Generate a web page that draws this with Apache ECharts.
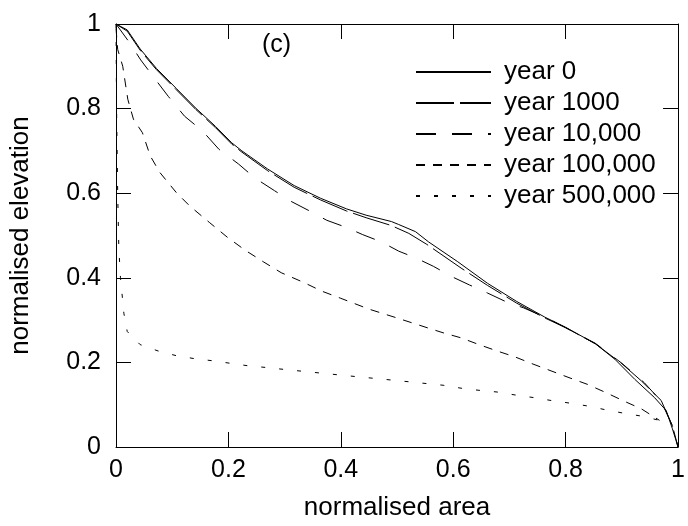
<!DOCTYPE html>
<html><head><meta charset="utf-8">
<script src="https://cdn.jsdelivr.net/npm/echarts@6/dist/echarts.min.js"></script>
<style>html,body{margin:0;padding:0;background:#fff}#c{width:688px;height:526px}</style>
</head><body><div id="c"></div>
<script>
const seriesNames = ['year 0','year 1000','year 10,000','year 100,000','year 500,000'];
const xTicks = [0,0.2,0.4,0.6,0.8,1];
const yTicks = [0,0.2,0.4,0.6,0.8,1];

const year0X = [0,0.02,0.043,0.072,0.107,0.142,0.177,0.206,0.224,0.27,0.317,0.364,0.41,0.445,0.49,0.503,0.533,0.556,0.608,0.661,0.713,0.763,0.80,0.853,0.888,0.923,0.958,0.979,0.99,1];
const year0Y = [1,0.986,0.941,0.895,0.848,0.801,0.758,0.719,0.700,0.657,0.618,0.588,0.563,0.548,0.533,0.526,0.509,0.485,0.438,0.387,0.344,0.307,0.283,0.244,0.207,0.160,0.117,0.086,0.043,0];

const year1000X = [0,0.02,0.043,0.072,0.107,0.142,0.177,0.206,0.224,0.27,0.317,0.364,0.41,0.445,0.489,0.521,0.553,0.614,0.661,0.713,0.763,0.80,0.853,0.9,0.935,0.97,0.99,1];
const year1000Y = [1,0.983,0.938,0.892,0.845,0.798,0.755,0.716,0.697,0.653,0.614,0.584,0.558,0.542,0.524,0.505,0.479,0.423,0.382,0.340,0.305,0.282,0.244,0.197,0.156,0.110,0.05,0];

const year10kX = [0,0.023,0.044,0.07,0.093,0.122,0.154,0.183,0.218,0.247,0.282,0.311,0.343,0.375,0.41,0.439,0.472,0.503,0.535,0.565,0.597,0.629,0.661,0.693,0.725,0.77,0.80,0.853,0.9,0.94,0.97,0.99,1];
const year10kY = [1,0.958,0.915,0.869,0.829,0.782,0.747,0.704,0.669,0.636,0.606,0.581,0.559,0.536,0.519,0.502,0.485,0.463,0.446,0.427,0.403,0.383,0.364,0.344,0.329,0.303,0.282,0.245,0.198,0.152,0.108,0.05,0];

const year100kX = [0,0.003,0.012,0.021,0.031,0.047,0.061,0.078,0.107,0.131,0.166,0.198,0.23,0.262,0.294,0.334,0.367,0.399,0.45,0.5,0.556,0.582,0.614,0.646,0.678,0.71,0.742,0.774,0.806,0.839,0.871,0.903,0.935,0.967];
const year100kY = [0.99,0.94,0.90,0.822,0.775,0.743,0.688,0.649,0.602,0.570,0.531,0.496,0.465,0.438,0.412,0.389,0.368,0.352,0.326,0.305,0.281,0.270,0.258,0.242,0.227,0.213,0.196,0.180,0.164,0.148,0.129,0.109,0.090,0.063];

const year500kX = [0,0.001,0.003,0.005,0.008,0.014,0.02,0.043,0.075,0.107,0.139,0.171,0.203,0.235,0.267,0.302,0.4,0.5,0.582,0.614,0.646,0.678,0.71,0.742,0.774,0.806,0.839,0.871,0.903,0.935,0.967];
const year500kY = [1,0.8,0.6,0.47,0.4,0.316,0.273,0.242,0.227,0.216,0.209,0.204,0.198,0.192,0.188,0.183,0.17,0.157,0.146,0.139,0.134,0.130,0.123,0.117,0.110,0.104,0.097,0.088,0.080,0.073,0.063];

const allX = [year0X, year1000X, year10kX, year100kX, year500kX];
const allY = [year0Y, year1000Y, year10kY, year100kY, year500kY];
const dashes = ['solid',[38,6],[20,16],[9,8],[4,14]];

const font = 'Liberation Sans, Arial, sans-serif';
const chart = echarts.init(document.getElementById('c'), null, {renderer:'canvas'});
const fmt = v => String(Math.round(v*10)/10);
const commonAxis = {min:0,max:1,interval:0.2,splitLine:{show:false},
  axisLine:{show:true,onZero:false,lineStyle:{color:'#000',width:1}},
  axisTick:{show:true,inside:true,length:15,lineStyle:{color:'#000',width:1}}};

chart.setOption({
  animation:false,
  backgroundColor:'#fff',
  textStyle:{fontFamily:font},
  grid:{left:112,right:4,top:24,bottom:76,containLabel:false},
  legend:{
    left:415, top:59, orient:'vertical', itemWidth:75, itemHeight:20, itemGap:5, padding:0,
    data:seriesNames,
    itemStyle:{opacity:0},
    textStyle:{fontFamily:font,fontSize:26,lineHeight:26,color:'#000',padding:[0,0,0,8]}
  },
  graphic:[{type:'text',left:262,top:33,style:{text:'(c)',font:'25px '+font,fill:'#000'}}],
  xAxis:[
    Object.assign({},commonAxis,{type:'value',position:'bottom',name:'normalised area',nameLocation:'middle',nameGap:48,
      nameTextStyle:{fontFamily:font,fontSize:26,color:'#000'},
      axisLabel:{fontFamily:font,fontSize:25,color:'#000',margin:11,formatter:fmt}}),
    Object.assign({},commonAxis,{type:'value',position:'top',axisLabel:{show:false}})
  ],
  yAxis:[
    Object.assign({},commonAxis,{type:'value',position:'left',name:'normalised elevation',nameLocation:'middle',nameGap:82,
      nameTextStyle:{fontFamily:font,fontSize:26,color:'#000'},
      axisLabel:{fontFamily:font,fontSize:25,color:'#000',margin:15,formatter:fmt}}),
    Object.assign({},commonAxis,{type:'value',position:'right',axisLabel:{show:false}})
  ],
  series: seriesNames.map((n,i)=>({
    name:n, type:'line', xAxisIndex:0, yAxisIndex:0, symbol:'none', showSymbol:false,
    data: allX[i].map((x,j)=>[x, allY[i][j]]),
    lineStyle:{color:'#000',width:1,type:dashes[i]},
    itemStyle:{color:'#000'},
    silent:true
  }))
});
</script></body></html>
